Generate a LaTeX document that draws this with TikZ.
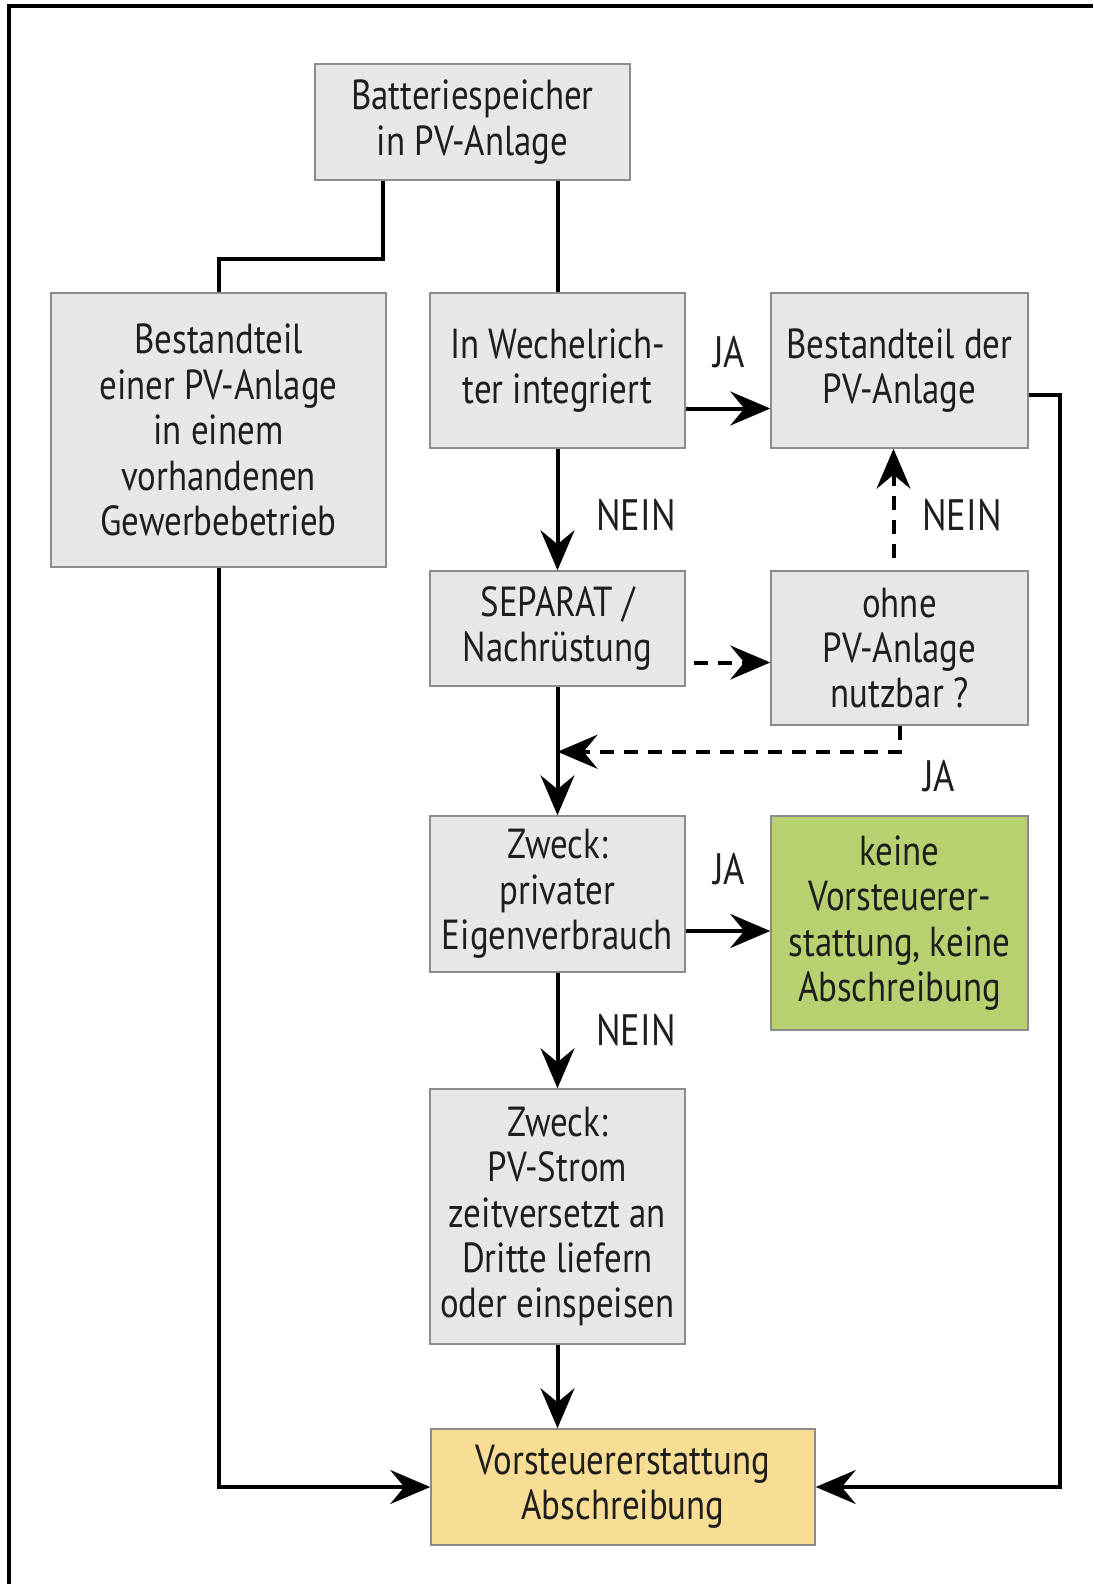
\documentclass[tikz,border=0pt]{standalone}
\usepackage{fontspec}
\setmainfont{PT Sans}[FakeStretch=0.83]
\usetikzlibrary{arrows.meta}

\definecolor{boxgrey}{RGB}{231,231,231}
\definecolor{boxline}{RGB}{140,140,140}
\definecolor{nogreen}{RGB}{184,209,112}
\definecolor{yesyellow}{RGB}{248,221,148}
\definecolor{ink}{RGB}{30,30,30}

\newcommand{\chartfont}{\fontsize{21}{22.7}\selectfont}

\tikzset{
  box/.style={draw=boxline, fill=boxgrey, line width=0.75pt, align=center,
    inner sep=0pt, text=ink, font=\chartfont, minimum width=127.5pt},
  answer/.style={text=ink, font=\fontsize{22}{24}\selectfont, inner sep=0pt},
  flow/.style={line width=2pt, -{Stealth[length=20pt, width=17pt, inset=7pt]}},
  link/.style={line width=2pt},
  maybe/.style={flow, dash pattern=on 7pt off 5pt}
}

\begin{document}
\begin{tikzpicture}[x=0.5pt, y=-0.5pt]
\useasboundingbox (0,0) rectangle (1093,1584);
\draw [line width=2.2pt] (9,1584) -- (9,6) -- (1093,6);

\node [box, minimum width=157.5pt, minimum height=58pt] (batt) at (472.5,122) {Batteriespeicher\\in PV-Anlage};
\node [box, minimum width=167.5pt, minimum height=137pt] (partof) at (218.5,430) {Bestandteil\\einer PV-Anlage\\in einem\\vorhandenen\\Gewerbebetrieb};
\node [box, minimum height=77.5pt] (inverter) at (557.5,370.5) {In Wechelrich-\\ter integriert};
\node [box, minimum width=128.5pt, minimum height=77.5pt] (partpv) at (899.5,370.5) {Bestandteil der\\PV-Anlage};
\node [box, minimum height=57.5pt] (separat) at (557.5,628.5) {SEPARAT /\\Nachrüstung};
\node [box, minimum width=128.5pt, minimum height=77pt] (alone) at (899.5,648) {ohne\\PV-Anlage\\nutzbar ?};
\node [box, minimum height=78pt] (private) at (557.5,894) {Zweck:\\privater\\Eigenverbrauch};
\node [box, fill=nogreen, minimum width=128.5pt, minimum height=107pt] (norefund) at (899.5,923) {keine\\Vorsteuerer-\\stattung, keine\\Abschreibung};
\node [box, minimum height=127.5pt] (feedin) at (557.5,1216.5) {Zweck:\\PV-Strom\\zeitversetzt an\\Dritte liefern\\oder einspeisen};
\node [box, fill=yesyellow, minimum width=192pt, minimum height=58pt] (refund) at (623,1487) {Vorsteuererstattung\\Abschreibung};

\node [answer] (ja1) at (729,352) {JA};
\node [answer] (nein1) at (636,515) {NEIN};
\node [answer] (nein2) at (962,515) {NEIN};
\node [answer] (ja2) at (939,776) {JA};
\node [answer] (ja3) at (729,869) {JA};
\node [answer] (nein3) at (636,1030) {NEIN};

\draw [link] ([xshift=-45pt]batt.south) -- ++(0,78) -| (partof.north);
\draw [link] (batt.south -| inverter.north) -- (inverter.north);
\draw [flow] ([yshift=-19pt]inverter.east) -- ([yshift=-19pt]inverter.east -| partpv.west);
\draw [flow] (inverter.south) -- (separat.north);
\draw [maybe, shorten <=4pt] ([yshift=-17pt]separat.east) -- ([yshift=-17pt]separat.east -| alone.west);
\draw [maybe, shorten <=6pt] ([xshift=-3pt]alone.north) -- ([xshift=-3pt]alone.north |- partpv.south);
\draw [maybe] (alone.south) -- ++(0,26) coordinate (back) -- (back -| separat.south);
\draw [flow] (separat.south) -- (private.north);
\draw [flow] ([yshift=-18.5pt]private.east) -- ([yshift=-18.5pt]private.east -| norefund.west);
\draw [flow] (private.south) -- (feedin.north);
\draw [flow] (feedin.south) -- (feedin.south |- refund.north);
\draw [flow] (partof.south) |- (refund.west);
\draw [flow] ([yshift=-12pt]partpv.east) -- ++(31,0) |- (refund.east);
\end{tikzpicture}
\end{document}
